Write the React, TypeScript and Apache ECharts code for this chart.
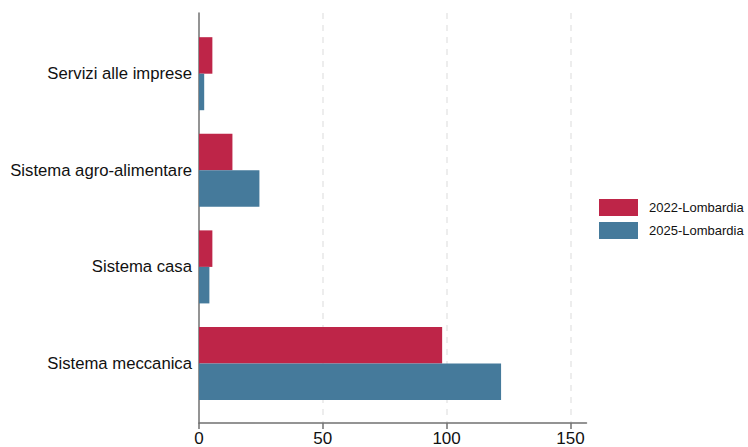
import React, { useEffect, useRef } from "react";
import * as echarts from "echarts";

const categories = [
  "Servizi alle imprese",
  "Sistema agro-alimentare",
  "Sistema casa",
  "Sistema meccanica",
];
const series2022 = [5.4, 13.5, 5.4, 98.2];
const series2025 = [2.1, 24.4, 4.2, 122];
const seriesNames = ["2022-Lombardia", "2025-Lombardia"];
const xTicks = [0, 50, 100, 150];

const RED = "#BE2548";
const BLUE = "#457A9B";
const AXIS = "#707070";
const FONT = "'Liberation Sans', Arial, sans-serif";

export default function App() {
  const ref = useRef<HTMLDivElement>(null);
  useEffect(() => {
    if (!ref.current) return;
    const chart = echarts.init(ref.current, undefined, { renderer: "svg" });
    const xMax = 156.5;
    chart.setOption({
      animation: false,
      backgroundColor: "#ffffff",
      textStyle: { fontFamily: FONT },
      grid: [
        { left: 199, right: 161.5, top: 13, bottom: 23 },
        { left: 199, right: 161.5, top: 25.4, height: 386.4 },
      ],
      legend: {
        orient: "vertical",
        left: 599,
        top: 199,
        padding: 0,
        itemWidth: 39,
        itemHeight: 17,
        itemGap: 6,
        icon: "rect",
        data: seriesNames,
        textStyle: { fontSize: 13, color: "#111", fontFamily: FONT, padding: [0, 0, 0, 6] },
      },
      xAxis: [
        {
          type: "value",
          gridIndex: 0,
          min: 0,
          max: xMax,
          interval: 50,
          axisLine: { show: true, lineStyle: { color: AXIS, width: 1.5 } },
          axisTick: { show: true, length: 6, lineStyle: { color: AXIS, width: 1.5 }, customValues: xTicks },
          axisLabel: { fontSize: 17, color: "#111", margin: 7, customValues: xTicks, fontFamily: FONT },
          splitLine: {
            show: true,
            showMinLine: false,
            lineStyle: { color: "#e8e8e8", width: 1.5, type: [6, 6] },
          },
        },
        {
          type: "value",
          gridIndex: 1,
          min: 0,
          max: xMax,
          show: false,
        },
      ],
      yAxis: [
        {
          type: "value",
          gridIndex: 0,
          min: 0,
          max: 1,
          axisLine: { show: true, lineStyle: { color: AXIS, width: 1.5 } },
          axisTick: { show: false },
          axisLabel: { show: false },
          splitLine: { show: false },
        },
        {
          type: "category",
          gridIndex: 1,
          inverse: true,
          data: categories,
          axisLine: { show: false },
          axisTick: { show: false },
          axisLabel: { fontSize: 16.7, color: "#111", margin: 7, fontFamily: FONT },
          splitLine: { show: false },
        },
      ],
      series: [
        {
          name: seriesNames[0],
          type: "bar",
          xAxisIndex: 1,
          yAxisIndex: 1,
          data: series2022,
          itemStyle: { color: RED },
          barGap: "0%",
          barCategoryGap: "24.4%",
        },
        {
          name: seriesNames[1],
          type: "bar",
          xAxisIndex: 1,
          yAxisIndex: 1,
          data: series2025,
          itemStyle: { color: BLUE },
          barGap: "0%",
          barCategoryGap: "24.4%",
        },
      ],
    });
    return () => chart.dispose();
  }, []);
  return <div ref={ref} style={{ width: 748, height: 447, position: "absolute", left: 0, top: 0 }} />;
}
